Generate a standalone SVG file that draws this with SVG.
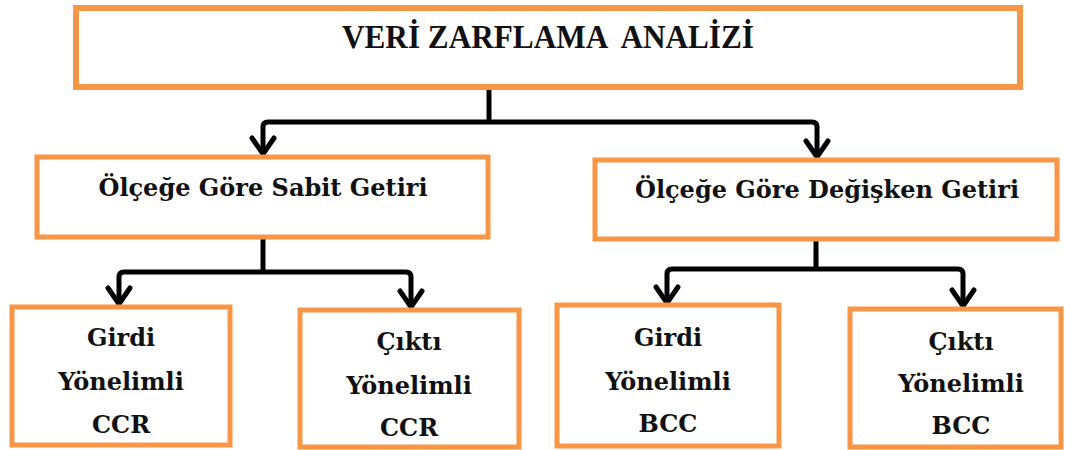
<svg xmlns="http://www.w3.org/2000/svg" width="1065" height="450" viewBox="0 0 1065 450">
  <style>
    .box { fill: #ffffff; stroke: #F79646; stroke-width: 5; }
    .title { font-family: "Liberation Serif", "DejaVu Serif", serif; font-weight: bold; font-size: 33px; fill: #111111; text-anchor: middle; }
    .lbl { font-family: "DejaVu Serif", "Liberation Serif", serif; font-weight: bold; font-size: 24px; fill: #111111; text-anchor: middle; }
    .conn { fill: none; stroke: #000000; stroke-width: 5; stroke-linejoin: round; }
  </style>
  <defs>
    <marker id="chev" markerUnits="userSpaceOnUse" viewBox="-22 -15 26 30" refX="0" refY="0" markerWidth="26" markerHeight="30" orient="auto">
      <path d="M-16,-11 L0,0 L-16,11" fill="none" stroke="#000000" stroke-width="5" stroke-linejoin="miter" stroke-linecap="round"/>
    </marker>
  </defs>
  <rect width="1065" height="450" fill="#ffffff"/>

  <g id="connectors">
    <path class="conn" d="M489,90 V122"/>
    <path class="conn" d="M489,122 H268 Q263,122 263,127 V154" marker-end="url(#chev)"/>
    <path class="conn" d="M489,122 H812 Q817,122 817,127 V157" marker-end="url(#chev)"/>
    <path class="conn" d="M263,239 V272"/>
    <path class="conn" d="M263,272 H124 Q119,272 119,277 V304" marker-end="url(#chev)"/>
    <path class="conn" d="M263,272 H406 Q411,272 411,277 V307" marker-end="url(#chev)"/>
    <path class="conn" d="M816,241 V269"/>
    <path class="conn" d="M816,269 H672 Q667,269 667,274 V303" marker-end="url(#chev)"/>
    <path class="conn" d="M816,269 H958 Q963,269 963,274 V306" marker-end="url(#chev)"/>
  </g>

  <g id="n-root">
    <rect class="box" x="76" y="8" width="944" height="79" style="stroke-width:6"/>
    <text class="title" x="548" y="48" xml:space="preserve" textLength="412" lengthAdjust="spacingAndGlyphs">VERİ ZARFLAMA  ANALİZİ</text>
  </g>

  <g id="n-crs">
    <rect class="box" x="37" y="157" width="451" height="80"/>
    <text class="lbl" x="263" y="196">Ölçeğe Göre Sabit Getiri</text>
  </g>

  <g id="n-vrs">
    <rect class="box" x="595" y="160" width="462" height="79"/>
    <text class="lbl" x="827" y="198">Ölçeğe Göre Değişken Getiri</text>
  </g>

  <g id="n-ccr-in">
    <rect class="box" x="12" y="307" width="218" height="138"/>
    <text class="lbl" x="121" y="346">Girdi</text>
    <text class="lbl" x="121" y="390">Yönelimli</text>
    <text class="lbl" x="121" y="433">CCR</text>
  </g>

  <g id="n-ccr-out">
    <rect class="box" x="300" y="310" width="219" height="137"/>
    <text class="lbl" x="409" y="350">Çıktı</text>
    <text class="lbl" x="409" y="394">Yönelimli</text>
    <text class="lbl" x="409" y="436">CCR</text>
  </g>

  <g id="n-bcc-in">
    <rect class="box" x="557" y="305" width="222" height="141"/>
    <text class="lbl" x="668" y="346">Girdi</text>
    <text class="lbl" x="668" y="390">Yönelimli</text>
    <text class="lbl" x="668" y="432">BCC</text>
  </g>

  <g id="n-bcc-out">
    <rect class="box" x="850" y="309" width="211" height="138"/>
    <text class="lbl" x="961" y="350">Çıktı</text>
    <text class="lbl" x="961" y="392">Yönelimli</text>
    <text class="lbl" x="961" y="434">BCC</text>
  </g>
</svg>
